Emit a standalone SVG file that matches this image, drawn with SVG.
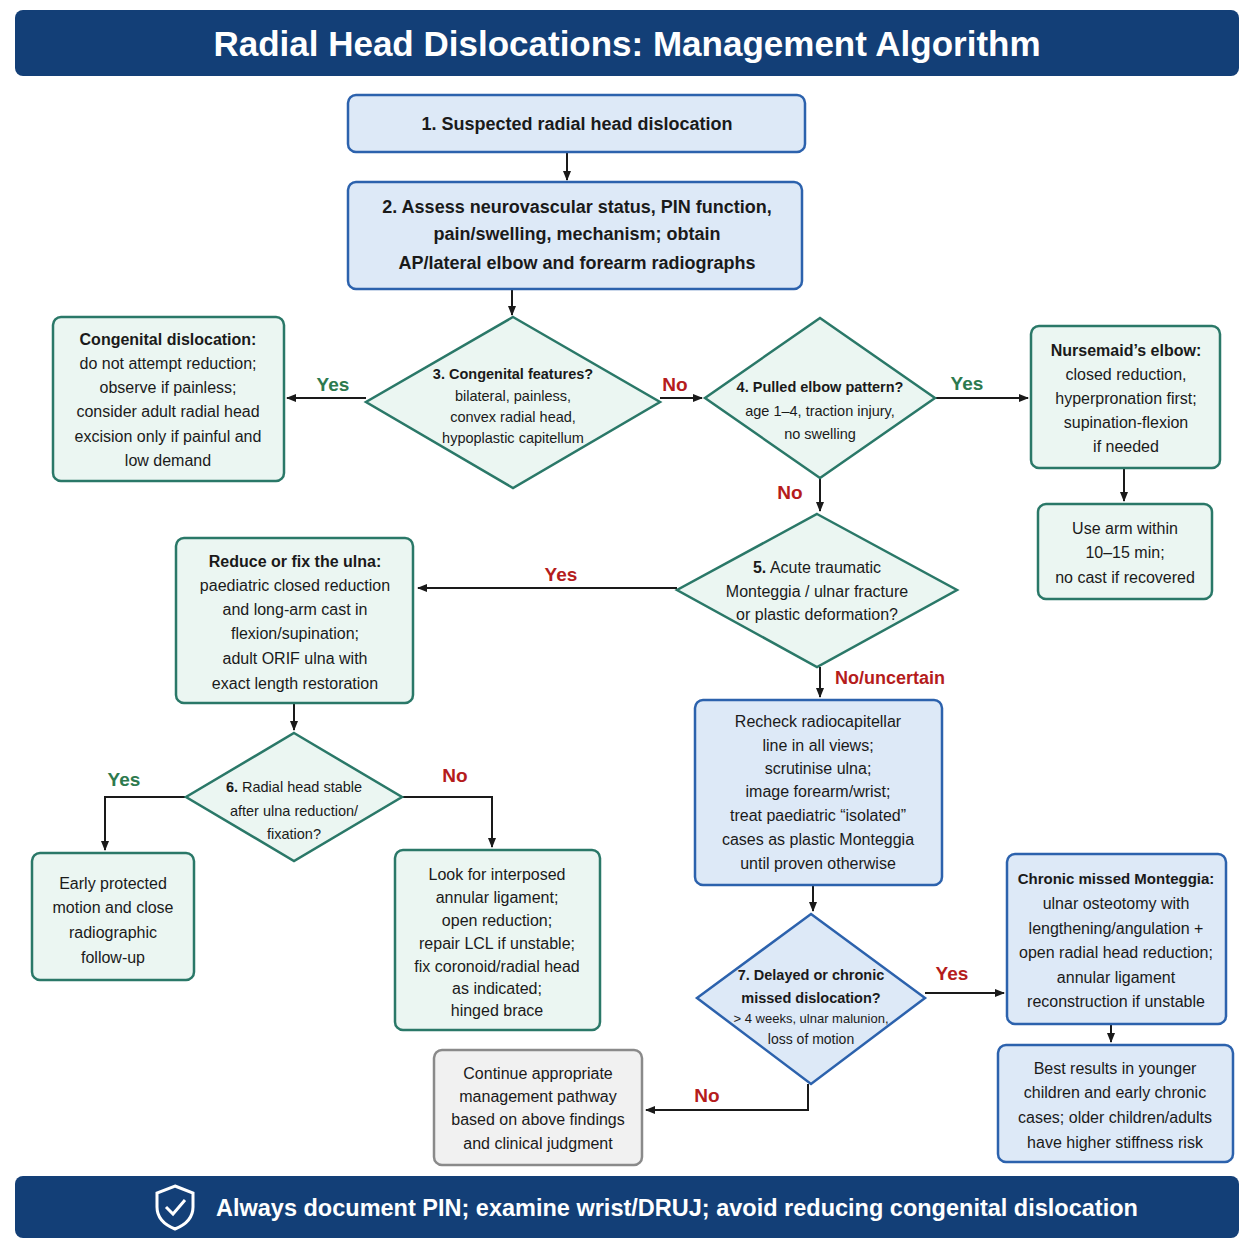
<svg xmlns="http://www.w3.org/2000/svg" width="1254" height="1254" viewBox="0 0 1254 1254">
<defs>
<marker id="ah" markerWidth="10" markerHeight="10" refX="9" refY="5" orient="auto" markerUnits="userSpaceOnUse"><path d="M0,1 L10,5 L0,9 z" fill="#1a1a1a"/></marker>
<style>
text{font-family:"Liberation Sans",Arial,sans-serif;fill:#1a1a1a;text-anchor:middle}
.t{font-size:16px}.b{font-weight:bold}.big{font-size:18px;font-weight:bold}
.d{font-size:14.5px}
.blue{fill:#dde9f7;stroke:#2c62ad;stroke-width:2.5}
.green{fill:#ebf6f2;stroke:#2a7868;stroke-width:2.5}
.gray{fill:#f1f1f1;stroke:#8a8a8a;stroke-width:2.5}
.c{fill:none;stroke:#1a1a1a;stroke-width:2;marker-end:url(#ah)}
.yes{fill:#2d7a4e;font-size:19px;font-weight:bold}.no{fill:#b51c1c;font-size:19px;font-weight:bold}
</style>
</defs>
<rect width="1254" height="1254" fill="#fff"/>
<g id="header"><rect x="15" y="10" width="1224" height="66" rx="8" fill="#133f77"/><text x="627" y="56" style="font-size:35px;font-weight:bold;fill:#fff">Radial Head Dislocations: Management Algorithm</text></g>
<g id="connectors">
<path class="c" d="M567,152 V180"/><path class="c" d="M512,289 V315"/>
<path class="c" d="M366,398 H287"/><path class="c" d="M660,398 H702"/>
<path class="c" d="M935,398 H1028"/><path class="c" d="M1124,468 V501"/>
<path class="c" d="M820,478 V511"/><path class="c" d="M677,588 H418"/>
<path class="c" d="M294,703 V730"/><path class="c" d="M186,797 H105 V850"/>
<path class="c" d="M402,797 H492 V847"/><path class="c" d="M820,667 V697"/>
<path class="c" d="M813,885 V911"/><path class="c" d="M925,993 H1004"/>
<path class="c" d="M1111,1024 V1042"/><path class="c" d="M808,1084 V1110 H646"/>
<text class="yes" x="333" y="391">Yes</text><text class="no" x="675" y="391">No</text>
<text class="yes" x="967" y="390">Yes</text><text class="no" x="790" y="499">No</text>
<text class="no" x="561" y="581">Yes</text><text class="yes" x="124" y="786">Yes</text>
<text class="no" x="455" y="782">No</text><text class="no" x="890" y="684" style="font-size:18px">No/uncertain</text>
<text class="no" x="952" y="980">Yes</text><text class="no" x="707" y="1102">No</text>
</g>
<g id="n1"><rect class="blue" x="348" y="95" width="457" height="57" rx="8"/><text class="big" x="577" y="130">1. Suspected radial head dislocation</text></g>
<g id="n2"><rect class="blue" x="348" y="182" width="454" height="107" rx="8"/><text class="big" x="577" y="213">2. Assess neurovascular status, PIN function,</text><text class="big" x="577" y="240">pain/swelling, mechanism; obtain</text><text class="big" x="577" y="269">AP/lateral elbow and forearm radiographs</text></g>
<g id="d3"><polygon class="green" points="513,317 660,402 513,488 366,402"/><text class="d b" x="513" y="379">3. Congenital features?</text><text class="d" x="513" y="401">bilateral, painless,</text><text class="d" x="513" y="422">convex radial head,</text><text class="d" x="513" y="443">hypoplastic capitellum</text></g>
<g id="cong"><rect class="green" x="53" y="317" width="231" height="164" rx="8"/><text class="t b" x="168" y="345">Congenital dislocation:</text><text class="t" x="168" y="369">do not attempt reduction;</text><text class="t" x="168" y="393">observe if painless;</text><text class="t" x="168" y="417">consider adult radial head</text><text class="t" x="168" y="442">excision only if painful and</text><text class="t" x="168" y="466">low demand</text></g>
<g id="d4"><polygon class="green" points="820,318 935,398 820,478 705,398"/><text class="d b" x="820" y="392">4. Pulled elbow pattern?</text><text class="d" x="820" y="416">age 1–4, traction injury,</text><text class="d" x="820" y="439">no swelling</text></g>
<g id="nurse"><rect class="green" x="1031" y="326" width="189" height="142" rx="8"/><text class="t b" x="1126" y="356">Nursemaid’s elbow:</text><text class="t" x="1126" y="380">closed reduction,</text><text class="t" x="1126" y="404">hyperpronation first;</text><text class="t" x="1126" y="428">supination-flexion</text><text class="t" x="1126" y="452">if needed</text></g>
<g id="usearm"><rect class="green" x="1038" y="504" width="174" height="95" rx="8"/><text class="t" x="1125" y="534">Use arm within</text><text class="t" x="1125" y="558">10–15 min;</text><text class="t" x="1125" y="583">no cast if recovered</text></g>
<g id="d5"><polygon class="green" points="817,514 957,590 817,667 677,590"/><text class="t" x="817" y="573"><tspan class="b">5.</tspan> Acute traumatic</text><text class="t" x="817" y="597">Monteggia / ulnar fracture</text><text class="t" x="817" y="620">or plastic deformation?</text></g>
<g id="reduce"><rect class="green" x="176" y="538" width="237" height="165" rx="8"/><text class="t b" x="295" y="567">Reduce or fix the ulna:</text><text class="t" x="295" y="591">paediatric closed reduction</text><text class="t" x="295" y="615">and long-arm cast in</text><text class="t" x="295" y="639">flexion/supination;</text><text class="t" x="295" y="664">adult ORIF ulna with</text><text class="t" x="295" y="689">exact length restoration</text></g>
<g id="d6"><polygon class="green" points="294,733 402,797 294,861 186,797"/><text class="d" x="294" y="792"><tspan class="b">6.</tspan> Radial head stable</text><text class="d" x="294" y="816">after ulna reduction/</text><text class="d" x="294" y="839">fixation?</text></g>
<g id="early"><rect class="green" x="32" y="853" width="162" height="127" rx="8"/><text class="t" x="113" y="889">Early protected</text><text class="t" x="113" y="913">motion and close</text><text class="t" x="113" y="938">radiographic</text><text class="t" x="113" y="963">follow-up</text></g>
<g id="look"><rect class="green" x="395" y="850" width="205" height="180" rx="8"/><text class="t" x="497" y="880">Look for interposed</text><text class="t" x="497" y="903">annular ligament;</text><text class="t" x="497" y="926">open reduction;</text><text class="t" x="497" y="949">repair LCL if unstable;</text><text class="t" x="497" y="972">fix coronoid/radial head</text><text class="t" x="497" y="994">as indicated;</text><text class="t" x="497" y="1016">hinged brace</text></g>
<g id="recheck"><rect class="blue" x="695" y="700" width="247" height="185" rx="8"/><text class="t" x="818" y="727">Recheck radiocapitellar</text><text class="t" x="818" y="751">line in all views;</text><text class="t" x="818" y="774">scrutinise ulna;</text><text class="t" x="818" y="797">image forearm/wrist;</text><text class="t" x="818" y="821">treat paediatric “isolated”</text><text class="t" x="818" y="845">cases as plastic Monteggia</text><text class="t" x="818" y="869">until proven otherwise</text></g>
<g id="d7"><polygon class="blue" points="811,914 925,998 811,1084 697,998"/><text class="b" x="811" y="980" style="font-size:14.5px">7. Delayed or chronic</text><text class="b" x="811" y="1003" style="font-size:14.5px">missed dislocation?</text><text x="811" y="1023" style="font-size:13px">&gt; 4 weeks, ulnar malunion,</text><text x="811" y="1044" style="font-size:14px">loss of motion</text></g>
<g id="chronic"><rect class="blue" x="1007" y="854" width="219" height="170" rx="8"/><text class="b" x="1116" y="884" style="font-size:15px">Chronic missed Monteggia:</text><text class="t" x="1116" y="909">ulnar osteotomy with</text><text class="t" x="1116" y="934">lengthening/angulation +</text><text class="t" x="1116" y="958">open radial head reduction;</text><text class="t" x="1116" y="983">annular ligament</text><text class="t" x="1116" y="1007">reconstruction if unstable</text></g>
<g id="best"><rect class="blue" x="998" y="1045" width="235" height="117" rx="8"/><text class="t" x="1115" y="1074">Best results in younger</text><text class="t" x="1115" y="1098">children and early chronic</text><text class="t" x="1115" y="1123">cases; older children/adults</text><text class="t" x="1115" y="1148">have higher stiffness risk</text></g>
<g id="cont"><rect class="gray" x="434" y="1050" width="208" height="115" rx="8"/><text class="t" x="538" y="1079">Continue appropriate</text><text class="t" x="538" y="1102">management pathway</text><text class="t" x="538" y="1125">based on above findings</text><text class="t" x="538" y="1149">and clinical judgment</text></g>
<g id="footer"><rect x="15" y="1176" width="1224" height="62" rx="8" fill="#133f77"/><path d="M175,1186 L193,1193 V1207 C193,1218 185,1225 175,1229 C165,1225 157,1218 157,1207 V1193 Z" fill="none" stroke="#fff" stroke-width="3"/><path d="M166,1207 L173,1214 L185,1200" fill="none" stroke="#fff" stroke-width="3"/><text x="216" y="1216" style="font-size:23.5px;font-weight:bold;fill:#fff;text-anchor:start">Always document PIN; examine wrist/DRUJ; avoid reducing congenital dislocation</text></g>
</svg>
